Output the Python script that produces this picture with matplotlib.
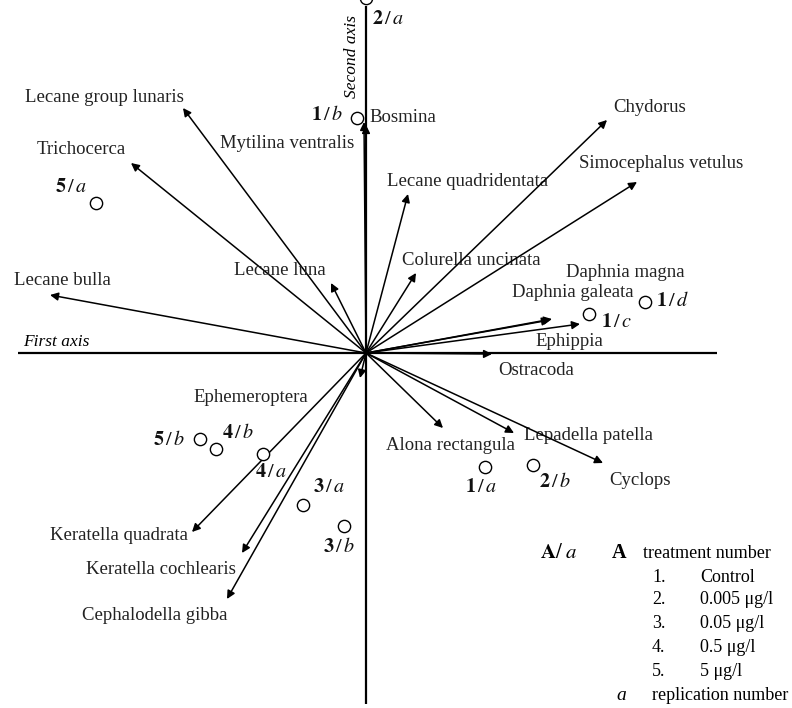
import matplotlib
matplotlib.use("Agg")
import matplotlib.pyplot as plt

# ---------------- data (ordination scores) ----------------
species = ["Lecane group lunaris", "Trichocerca", "Lecane bulla", "Lecane luna",
           "Mytilina ventralis", "Bosmina", "Lecane quadridentata", "Colurella uncinata",
           "Chydorus", "Simocephalus vetulus", "Daphnia magna", "Daphnia galeata",
           "Ephippia", "Ostracoda", "Ephemeroptera", "Alona rectangula",
           "Lepadella patella", "Cyclops", "Keratella quadrata", "Keratella cochlearis",
           "Cephalodella gibba"]
species_ax1 = [-1.83, -2.35, -3.16, -0.35, -0.02, 0.00, 0.42, 0.50, 2.41, 2.71, 1.84, 1.86,
               2.14, 1.26, -0.06, 0.77, 1.48, 2.37, -1.74, -1.24, -1.39]
species_ax2 = [2.45, 1.90, 0.58, 0.70, 2.31, 2.28, 1.59, 0.80, 2.33, 1.71, 0.33, 0.34,
               0.29, -0.01, -0.25, -0.75, -0.80, -1.10, -1.79, -2.00, -2.46]

treatments = ["1", "1", "1", "1", "2", "2", "3", "3", "4", "4", "5", "5"]
replicates = ["a", "b", "c", "d", "a", "b", "a", "b", "a", "b", "a", "b"]
sample_ax1 = [1.19, -0.09, 2.23, 2.79, 0.00, 1.67, -0.63, -0.22, -1.03, -1.50, -2.70, -1.66]
sample_ax2 = [-1.14, 2.35, 0.39, 0.51, 3.55, -1.12, -1.52, -1.73, -1.01, -0.96, 1.50, -0.86]

legend_numbers = ["1.", "2.", "3.", "4.", "5."]
legend_treatments = ["Control", "0.005 \u03bcg/l", "0.05 \u03bcg/l", "0.5 \u03bcg/l", "5 \u03bcg/l"]

# ---------------- layout (label offsets in pixels, y up) ----------------
species_offsets = {
    "Lecane group lunaris": (-79, 11), "Trichocerca": (-50, 13), "Lecane bulla": (12, 15),
    "Lecane luna": (-51, 13), "Mytilina ventralis": (-77, -21), "Bosmina": (37, 8),
    "Lecane quadridentata": (60, 12), "Colurella uncinata": (55, 13), "Chydorus": (43, 13),
    "Simocephalus vetulus": (24, 19), "Daphnia magna": (75, 48), "Daphnia galeata": (21, 27),
    "Ephippia": (-11, -17), "Ostracoda": (44, -16), "Ephemeroptera": (-109, -19),
    "Alona rectangula": (8, -17), "Lepadella patella": (74, -2), "Cyclops": (37, -17),
    "Keratella quadrata": (-73, -4), "Keratella cochlearis": (-81, -16),
    "Cephalodella gibba": (-72, -16),
}
sample_offsets = [(-4, -20), (-30, 3), (28, -8), (28, 1), (22, -22), (22, -17),
                  (26, 18), (-5, -22), (8, -18), (22, 16), (-25, 15), (-31, -1)]

plt.rcParams["font.family"] = ["Liberation Serif", "DejaVu Serif"]
plt.rcParams["mathtext.fontset"] = "stix"

W, H = 792, 708
fig = plt.figure(figsize=(W / 100, H / 100), dpi=100)
ax = fig.add_axes([0, 0, 1, 1])
ax.set_xlim(-3.66, 4.26)
ax.set_ylim(-3.55, 3.53)
ax.axis("off")

# axes of the ordination
ax.plot([-3.48, 3.51], [0, 0], color="black", lw=1.6, solid_capstyle="butt", zorder=1)
ax.plot([0, 0], [-3.51, 3.47], color="black", lw=1.6, solid_capstyle="butt", zorder=1)
ax.text(-3.10, 0.11, "First axis", style="italic", fontsize=12.5, ha="center", va="center")
ax.text(-0.14, 2.96, "Second axis", style="italic", fontsize=12.5, rotation=90,
        ha="center", va="center")

fs = 13.5
for name, x, y in zip(species, species_ax1, species_ax2):
    ax.annotate("", xy=(x, y), xytext=(0, 0),
                arrowprops=dict(arrowstyle="-|>", color="black", lw=1.1,
                                mutation_scale=12, shrinkA=0, shrinkB=0))
    ox, oy = species_offsets[name]
    ax.annotate(name, xy=(x, y), xytext=(ox, oy), textcoords="offset pixels",
                fontsize=fs, ha="center", va="center", color="#222222")

ax.scatter(sample_ax1, sample_ax2, s=78, facecolors="white", edgecolors="black",
           linewidths=1.0, zorder=4)
for t, r, x, y, (ox, oy) in zip(treatments, replicates, sample_ax1, sample_ax2, sample_offsets):
    lab = r"$\mathbf{%s}\,/\,\mathit{%s}$" % (t, r)
    ax.annotate(lab, xy=(x, y), xytext=(ox, oy), textcoords="offset pixels",
                fontsize=14.5, ha="center", va="center", color="#111111", zorder=5,
                annotation_clip=False)

# ---------------- legend block ----------------
def fx(px):
    return px / W

def fy(py):
    return 1 - py / H

lfs = 13
fig.text(fx(540), fy(553), r"$\mathbf{A}/\ \mathit{a}$", fontsize=15, ha="left", va="center")
fig.text(fx(612), fy(553), "A", fontsize=14.5, fontweight="bold", ha="left", va="center")
fig.text(fx(643), fy(553), "treatment number", fontsize=lfs, ha="left", va="center")
rows_y = [577, 600, 624, 648, 671]
for num, lab, py in zip(legend_numbers, legend_treatments, rows_y):
    fig.text(fx(652), fy(py), num, fontsize=lfs, ha="left", va="center")
    fig.text(fx(700), fy(py), lab, fontsize=lfs, ha="left", va="center")
fig.text(fx(616), fy(695), "a", fontsize=14, style="italic", ha="left", va="center")
fig.text(fx(652), fy(695), "replication number", fontsize=lfs, ha="left", va="center")

fig.savefig("out.png", dpi=100, facecolor="white")
